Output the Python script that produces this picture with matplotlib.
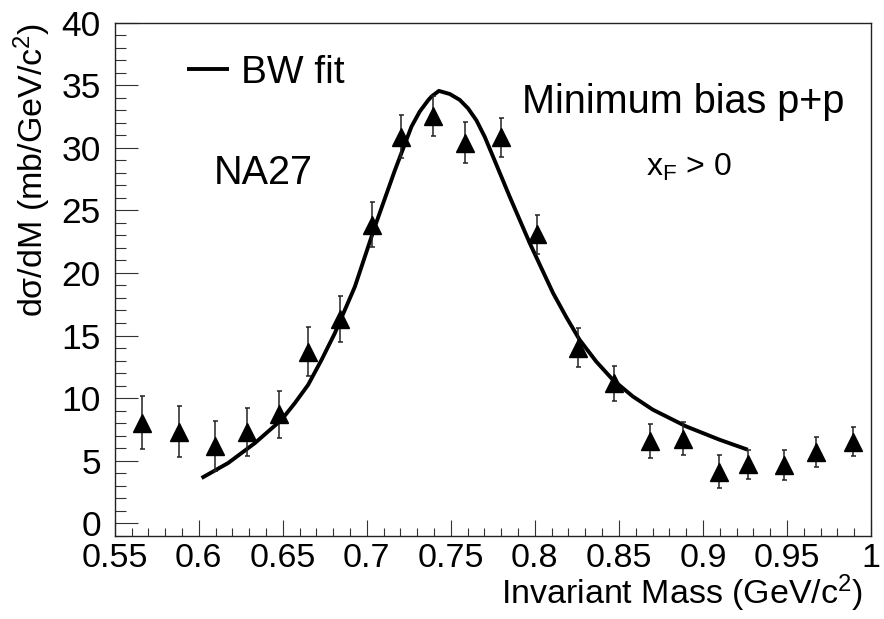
import matplotlib
matplotlib.use("Agg")
import matplotlib.pyplot as plt
from matplotlib.ticker import MultipleLocator, FixedLocator, FixedFormatter

plt.rcParams['font.family'] = ['Liberation Sans', 'DejaVu Sans']
plt.rcParams['mathtext.fontset'] = 'custom'
plt.rcParams['mathtext.rm'] = 'Liberation Sans'
plt.rcParams['mathtext.it'] = 'Liberation Sans'
plt.rcParams['mathtext.default'] = 'regular'

# ---- data ----
mass = [0.5664, 0.588, 0.6096, 0.6288, 0.6479, 0.665, 0.6841, 0.7032, 0.7202,
        0.7393, 0.7583, 0.780, 0.8013, 0.8256, 0.8473, 0.8688, 0.888, 0.9095,
        0.9267, 0.948, 0.9674, 0.9891]
dsdm = [8.04, 7.32, 6.16, 7.30, 8.69, 13.7, 16.33, 23.87, 30.9, 32.55, 30.4,
        30.83, 23.08, 14.04, 11.18, 6.56, 6.76, 4.13, 4.71, 4.66, 5.66, 6.51]
dsdm_err = [2.1, 2.07, 1.97, 1.9, 1.89, 1.96, 1.84, 1.78, 1.74, 1.62, 1.64,
            1.58, 1.56, 1.52, 1.42, 1.39, 1.29, 1.29, 1.16, 1.19, 1.2, 1.17]

fit_mass = [0.6017, 0.6175, 0.6334, 0.6493, 0.6572, 0.6651, 0.6731, 0.681,
            0.6929, 0.7048, 0.7167, 0.7266, 0.7315, 0.7365, 0.7385, 0.7429,
            0.7494, 0.7553, 0.7602, 0.7652, 0.7701, 0.7751, 0.785, 0.7969,
            0.8039, 0.8108, 0.8187, 0.8266, 0.8365, 0.8464, 0.8583, 0.8702,
            0.8901, 0.9099, 0.9267]
fit_dsdm = [3.61, 4.81, 6.4, 8.27, 9.6, 11.06, 13.06, 15.19,
            18.9, 23.7, 28.2, 31.7, 32.9, 33.8, 34.1, 34.55,
            34.3, 33.83, 33.16, 32.2, 30.9, 29.3, 26.1, 22.4,
            20.38, 18.4, 16.47, 14.66, 12.92, 11.46, 10.13, 9.07,
            7.73, 6.67, 5.87]

x_ticks = [0.55, 0.6, 0.65, 0.7, 0.75, 0.8, 0.85, 0.9, 0.95, 1.0]
x_tick_labels = ['0.55', '0.6', '0.65', '0.7', '0.75', '0.8', '0.85', '0.9', '0.95', '1']
y_ticks = [0, 5, 10, 15, 20, 25, 30, 35, 40]

fig = plt.figure(figsize=(8.84, 6.19), dpi=100)
W, H = 884, 619
l, r, t, b = 114.7, 871.0, 22.7, 535.7
ax = fig.add_axes([l / W, 1 - b / H, (r - l) / W, (b - t) / H])

ax.errorbar(mass, dsdm, yerr=dsdm_err, fmt='^', color='black', ms=13,
            ecolor='#222222', elinewidth=1.1, capsize=1.8, capthick=1.1,
            zorder=3)
ax.plot(fit_mass, fit_dsdm, color='black', lw=2.8, solid_joinstyle='round',
        solid_capstyle='butt', label='BW fit', zorder=2)

ax.set_xlim(0.55, 1.0)
ax.set_ylim(-1.0, 40)

ax.xaxis.set_major_locator(FixedLocator(x_ticks))
ax.xaxis.set_major_formatter(FixedFormatter(x_tick_labels))
ax.xaxis.set_minor_locator(MultipleLocator(0.01))
ax.yaxis.set_major_locator(FixedLocator(y_ticks))
ax.yaxis.set_minor_locator(MultipleLocator(1))

ax.tick_params(axis='both', which='both', direction='in', top=False,
               right=False, color='#333333', width=0.8)
ax.tick_params(axis='y', which='major', length=16.3, labelsize=25.5, pad=10)
ax.tick_params(axis='y', which='minor', length=8.2)
ax.tick_params(axis='x', which='major', length=11.3, labelsize=24.5, pad=5)
ax.tick_params(axis='x', which='minor', length=5.8)
for s in ax.spines.values():
    s.set_linewidth(1.0)
    s.set_color('#222222')

ax.set_xlabel(r'Invariant Mass (GeV/c$^{2}$)', fontsize=24.5, loc='right')
ax.xaxis.label.set_va('baseline')
ax.xaxis.set_label_coords(0.989, -0.1335)
ax.set_ylabel(r'd$\sigma$/dM (mb/GeV/c$^{2}$)', fontsize=24.5, loc='top')
ax.yaxis.label.set_va('baseline')
ax.yaxis.set_label_coords(-0.0952, 1.0)

ax.legend(loc='upper left', bbox_to_anchor=(0.0952, 0.937), frameon=False,
          fontsize=28, handlelength=1.1, handletextpad=0.3, borderpad=0,
          borderaxespad=0)

ax.text(0.1304, 0.685, 'NA27', transform=ax.transAxes, fontsize=28.5,
        va='baseline', ha='left')
ax.text(0.538, 0.8234, 'Minimum bias p+p', transform=ax.transAxes,
        fontsize=28.5, va='baseline', ha='left')
ax.text(0.7025, 0.701, r'x$_{F}$ > 0', transform=ax.transAxes,
        fontsize=23, va='baseline', ha='left')

fig.savefig('out.png', dpi=100)
